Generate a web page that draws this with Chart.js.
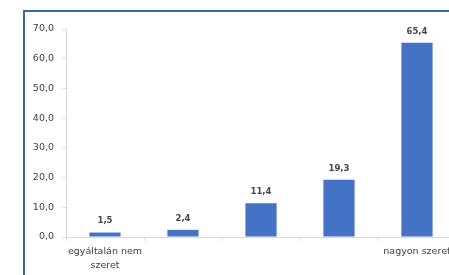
<!DOCTYPE html>
<html>
<head>
<meta charset="utf-8">
<script src="https://cdn.jsdelivr.net/npm/chart.js@4"></script>
<style>
  html, body { margin: 0; padding: 0; background: #fff; overflow: hidden; }
  #wrap { position: relative; width: 449px; height: 275px; overflow: hidden; }
  #frame { position: absolute; left: 23px; top: 10px; width: 500px; height: 300px;
           border-left: 2px solid #3a6795; border-top: 2px solid #3a6795; }
  #c { position: absolute; left: 0; top: 0; }
</style>
</head>
<body>
<div id="wrap">
  <div id="frame"></div>
  <canvas id="c" width="456" height="275"></canvas>
</div>
<script>
// adatok
var kategoriak = [["egyáltalán nem", "szeret"], "", "", "", "nagyon szeret"];
var ertekek = [1.5, 2.4, 11.4, 19.3, 65.4];
var yMax = 70;
var yLepes = 10;

function vesszo(v) {
  return Number(v).toFixed(1).replace(".", ",");
}

// értékek a oszlopok fölé
var ertekCimkek = {
  id: "ertekCimkek",
  afterDatasetsDraw: function (chart) {
    var ctx = chart.ctx;
    var meta = chart.getDatasetMeta(0);
    ctx.save();
    ctx.font = "bold 8.5px 'DejaVu Sans', sans-serif";
    ctx.fillStyle = "#474747";
    ctx.textAlign = "center";
    ctx.textBaseline = "bottom";
    meta.data.forEach(function (bar, i) {
      ctx.fillText(vesszo(ertekek[i]), bar.x, bar.y - 7);
    });
    ctx.restore();
  }
};

var ctx = document.getElementById("c").getContext("2d");
var chart = new Chart(ctx, {
  type: "bar",
  data: {
    labels: kategoriak,
    datasets: [
      {
        data: ertekek,
        backgroundColor: "#4472c4",
        barPercentage: 0.4,
        categoryPercentage: 1.0
      }
    ]
  },
  options: {
    responsive: false,
    animation: false,
    devicePixelRatio: 1,
    layout: { padding: { top: 29, left: 0, right: 0, bottom: 0 } },
    plugins: { legend: { display: false }, tooltip: { enabled: false } },
    scales: {
      x: {
        afterFit: function (s) { s.height = 38; },
        grid: { drawOnChartArea: false, tickLength: 4, color: "#e4e4e4", offset: true },
        border: { color: "#d9d9d9" },
        ticks: {
          autoSkip: false,
          maxRotation: 0,
          padding: 4,
          color: "#404040",
          font: { family: "'DejaVu Sans', sans-serif", size: 9.5, lineHeight: 1.45 }
        }
      },
      y: {
        min: 0,
        max: yMax,
        afterFit: function (s) { s.width = 66; },
        grid: { drawOnChartArea: false, tickLength: 4, color: "#e4e4e4" },
        border: { color: "#d9d9d9" },
        ticks: {
          stepSize: yLepes,
          padding: 8,
          color: "#404040",
          font: { family: "'DejaVu Sans', sans-serif", size: 9.5 },
          callback: function (v) { return vesszo(v); }
        }
      }
    }
  },
  plugins: [ertekCimkek]
});
</script>
</body>
</html>
